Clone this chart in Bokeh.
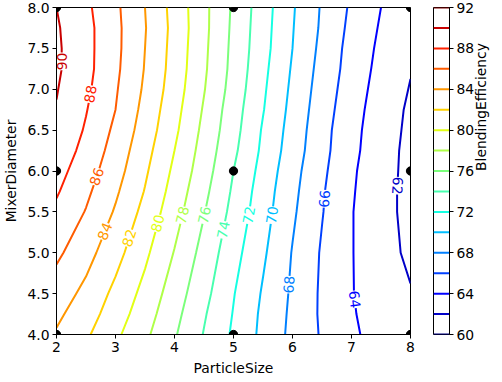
import numpy as np
from bokeh.plotting import figure
from bokeh.layouts import row
from bokeh.models import FixedTicker, PrintfTickFormatter, Range1d
from bokeh.core.properties import value
from bokeh.embed import file_html
from bokeh.resources import INLINE
from bokeh.plotting.contour import contour_data

# ---- data ----
particle_size = [2.0, 2.5, 3.0, 3.5, 4.0, 4.5, 5.0, 5.5, 6.0, 6.5, 7.0, 7.5, 8.0]
mixer_diameter = [4.0, 4.25, 4.5, 5.0, 5.5, 5.75, 6.0, 6.25, 6.5, 6.75, 7.0, 7.25, 7.5, 7.75, 8.0]
# BlendingEfficiency, one row per mixer_diameter value
efficiency = [
    [83.8, 82.3, 80.4, 78.4, 76.2, 73.9, 71.7, 69.5, 67.5, 65.8, 64.3, 63.3, 62.6],  # 4.00
    [84.4, 82.9, 81.0, 78.9, 76.6, 74.2, 71.9, 69.6, 67.6, 65.7, 64.2, 63.0, 62.3],  # 4.25
    [85.0, 83.5, 81.5, 79.4, 77.0, 74.6, 72.1, 69.8, 67.7, 65.7, 64.1, 62.9, 62.1],  # 4.50
    [86.4, 84.7, 82.7, 80.4, 77.9, 75.3, 72.7, 70.3, 67.9, 65.8, 64.1, 62.6, 61.7],  # 5.00
    [87.6, 85.9, 83.8, 81.4, 78.8, 76.1, 73.4, 70.8, 68.3, 66.1, 64.1, 62.6, 61.5],  # 5.50
    [88.2, 86.4, 84.3, 81.9, 79.2, 76.5, 73.7, 71.0, 68.5, 66.2, 64.2, 62.6, 61.5],  # 5.75
    [88.7, 86.9, 84.8, 82.3, 79.6, 76.9, 74.0, 71.3, 68.7, 66.4, 64.3, 62.7, 61.5],  # 6.00
    [89.2, 87.4, 85.2, 82.7, 80.0, 77.2, 74.4, 71.6, 69.0, 66.6, 64.5, 62.8, 61.5],  # 6.25
    [89.6, 87.8, 85.6, 83.1, 80.4, 77.5, 74.7, 71.8, 69.2, 66.7, 64.6, 62.9, 61.6],  # 6.50
    [89.9, 88.1, 86.0, 83.4, 80.7, 77.8, 74.9, 72.1, 69.4, 66.9, 64.8, 63.0, 61.7],  # 6.75
    [90.1, 88.4, 86.2, 83.7, 81.0, 78.1, 75.2, 72.3, 69.6, 67.1, 65.0, 63.2, 61.9],  # 7.00
    [90.3, 88.6, 86.4, 83.9, 81.2, 78.3, 75.4, 72.5, 69.8, 67.3, 65.2, 63.4, 62.1],  # 7.25
    [90.3, 88.6, 86.5, 84.0, 81.3, 78.4, 75.5, 72.7, 70.0, 67.5, 65.3, 63.6, 62.3],  # 7.50
    [90.2, 88.6, 86.5, 84.1, 81.4, 78.5, 75.6, 72.8, 70.1, 67.7, 65.5, 63.8, 62.6],  # 7.75
    [90.0, 88.4, 86.4, 84.0, 81.3, 78.5, 75.7, 72.9, 70.2, 67.8, 65.7, 64.0, 62.8],  # 8.00
]
levels = [60, 62, 64, 66, 68, 70, 72, 74, 76, 78, 80, 82, 84, 86, 88, 90, 92]
colorbar_ticks = [60, 64, 68, 72, 76, 80, 84, 88, 92]
x_ticks = [2, 3, 4, 5, 6, 7, 8]
y_ticks = [4.0, 4.5, 5.0, 5.5, 6.0, 6.5, 7.0, 7.5, 8.0]
# contour labels: MixerDiameter where the label sits, and whether its text reads upward
label_y = {90: 7.34, 88: 6.94, 86: 5.93, 84: 5.26, 82: 5.18, 80: 5.36, 78: 5.46, 76: 5.46,
           74: 5.28, 72: 5.46, 70: 5.46, 68: 4.61, 66: 5.66, 64: 4.43, 62: 5.82}
label_reads_up = {90: True, 88: True, 86: True, 84: True, 82: True, 80: True, 78: True,
                  76: True, 74: True, 72: True, 70: True, 68: True, 66: True, 64: False, 62: False}
design_x = [2, 2, 2, 5, 5, 5, 8, 8, 8]
design_y = [4, 6, 8, 4, 6, 8, 4, 6, 8]


def jet(t):
    r = np.interp(t, [0, 0.35, 0.66, 0.89, 1], [0, 0, 1, 1, 0.5])
    g = np.interp(t, [0, 0.125, 0.375, 0.64, 0.91, 1], [0, 0, 1, 1, 0, 0])
    b = np.interp(t, [0, 0.11, 0.34, 0.65, 1], [0.5, 1, 1, 0, 0])
    return "#%02x%02x%02x" % (int(round(r * 255)), int(round(g * 255)), int(round(b * 255)))


colors = [jet((lv - levels[0]) / (levels[-1] - levels[0])) for lv in levels]

X = np.array(particle_size)
Y = np.array(mixer_diameter)
Z = np.array(efficiency)

FONT = "DejaVu Sans"
FS = "13.9px"
FW, FH = 354, 327
TOP = 7

p = figure(frame_width=FW, frame_height=FH, x_range=Range1d(2, 8), y_range=Range1d(4, 8),
           toolbar_location=None, output_backend="svg", min_border_left=0,
           min_border_right=15, min_border_top=TOP, min_border_bottom=0)
p.grid.visible = False
p.outline_line_color = "black"
p.contour(X, Y, Z, levels, line_color=colors, line_width=2)

cd = contour_data(X, Y, Z, levels, want_fill=False, want_line=True)
sx, sy = FW / 6.0, FH / 4.0
lab_x, lab_y, lab_t, lab_a, lab_c = [], [], [], [], []
for k, lv in enumerate(levels):
    if lv not in label_y:
        continue
    xs = np.asarray(cd.line_data.xs[k], dtype=float)
    ys = np.asarray(cd.line_data.ys[k], dtype=float)
    ty = label_y[lv]
    for i in range(len(xs) - 1):
        y0, y1 = ys[i], ys[i + 1]
        if np.isnan(y0) or np.isnan(y1) or y0 == y1:
            continue
        if (y0 - ty) * (y1 - ty) <= 0:
            f = (ty - y0) / (y1 - y0)
            xx = xs[i] + f * (xs[i + 1] - xs[i])
            ang = np.degrees(np.arctan2((y1 - y0) * sy, (xs[i + 1] - xs[i]) * sx)) % 180.0
            if not label_reads_up[lv]:
                ang -= 180.0
            lab_x.append(xx); lab_y.append(ty); lab_t.append(str(lv))
            lab_a.append(np.radians(ang)); lab_c.append(colors[k])
            break
p.text(x=lab_x, y=lab_y, text=lab_t, angle=lab_a, text_color=lab_c,
       text_font=value(FONT), text_font_size=FS, text_align="center",
       text_baseline="middle", background_fill_color="white")
p.scatter(design_x, design_y, size=8.3, color="black")

for ax in (p.xaxis[0], p.yaxis[0]):
    ax.major_tick_out = 4
    ax.major_tick_in = 0
    ax.minor_tick_out = 0
    ax.minor_tick_in = 0
    ax.major_label_standoff = 3
    ax.axis_label_standoff = 5
    ax.major_label_text_font = FONT
    ax.major_label_text_font_size = FS
    ax.major_label_text_color = "black"
    ax.axis_label_text_font = FONT
    ax.axis_label_text_font_size = FS
    ax.axis_label_text_font_style = "normal"
    ax.axis_label_text_color = "black"
    ax.axis_line_color = "black"
    ax.major_tick_line_color = "black"
p.xaxis[0].ticker = FixedTicker(ticks=x_ticks)
p.yaxis[0].ticker = FixedTicker(ticks=y_ticks)
p.yaxis[0].formatter = PrintfTickFormatter(format="%.1f")
p.xaxis[0].axis_label = "ParticleSize"
p.yaxis[0].axis_label = "MixerDiameter"

cb = figure(frame_width=16, frame_height=FH, x_range=Range1d(0, 1), y_range=Range1d(60, 92),
            toolbar_location=None, output_backend="svg", x_axis_location=None,
            y_axis_location="right", min_border_left=8, min_border_right=10,
            min_border_top=TOP, min_border_bottom=10)
cb.grid.visible = False
cb.outline_line_color = "black"
cb.segment(x0=[0] * len(levels), x1=[1] * len(levels), y0=levels, y1=levels,
           line_color=colors, line_width=2)
ay = cb.yaxis[0]
ay.ticker = FixedTicker(ticks=colorbar_ticks)
ay.major_tick_out = 4
ay.major_tick_in = 0
ay.minor_tick_out = 0
ay.minor_tick_in = 0
ay.major_label_standoff = 3
ay.major_label_text_font = FONT
ay.major_label_text_font_size = FS
ay.major_label_text_color = "black"
ay.axis_line_color = "black"
ay.major_tick_line_color = "black"
ay.axis_label = "BlendingEfficiency"
ay.axis_label_standoff = 4
ay.axis_label_text_font = FONT
ay.axis_label_text_font_size = FS
ay.axis_label_text_font_style = "normal"
ay.axis_label_text_color = "black"
try:
    ay.axis_label_orientation = np.pi / 2
except AttributeError:
    pass

layout = row(p, cb)
open("out.html", "w").write(file_html(layout, INLINE))
